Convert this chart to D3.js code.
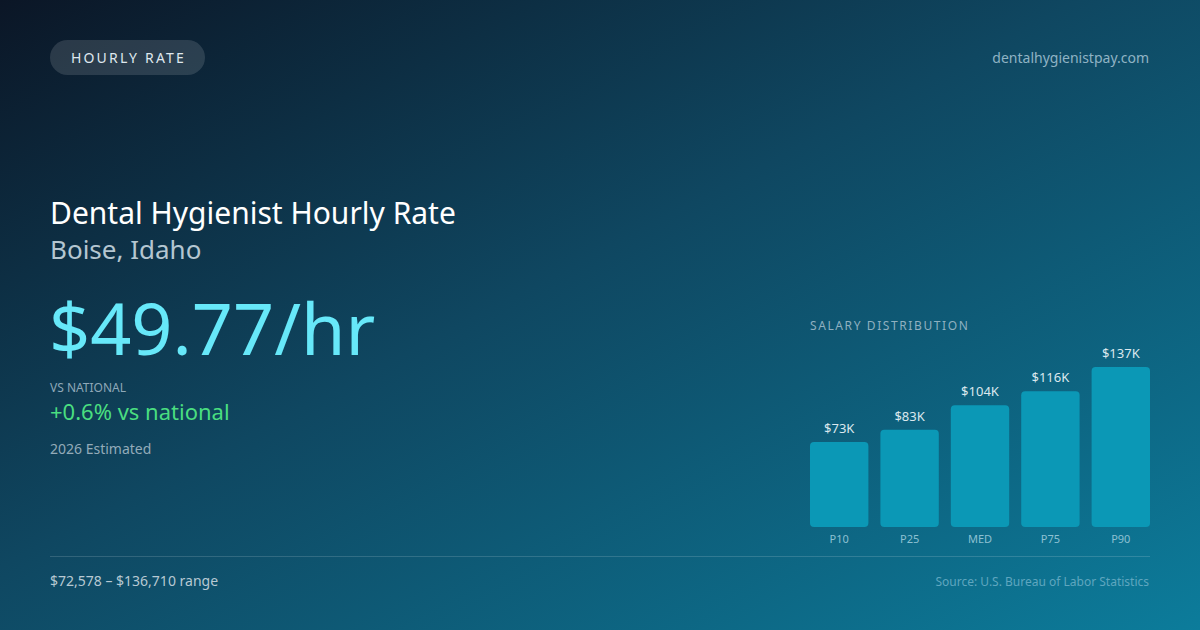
<!DOCTYPE html>
<html><head><meta charset="utf-8">
<script src="https://cdn.jsdelivr.net/npm/d3@7/dist/d3.min.js"></script>
<style>html,body{margin:0;padding:0;background:#0c1827;}svg{display:block;font-family:"Noto Sans","Open Sans",sans-serif;}</style>
</head><body>
<script>
const categories = ["P10","P25","MED","P75","P90"];
const salaries = [72578, 83000, 104000, 116000, 136710];
const barLabels = ["$73K","$83K","$104K","$116K","$137K"];
const badgeText = "HOURLY RATE";
const siteText = "dentalhygienistpay.com";
const titleText = "Dental Hygienist Hourly Rate";
const locationText = "Boise, Idaho";
const rateText = "$49.77/hr";
const compareLabel = "VS NATIONAL";
const compareText = "+0.6% vs national";
const yearText = "2026 Estimated";
const rangeText = "$72,578 – $136,710 range";
const sourceText = "Source: U.S. Bureau of Labor Statistics";

const W = 1200, H = 630;
const svg = d3.select("body").append("svg").attr("width", W).attr("height", H);
const defs = svg.append("defs");
const g = defs.append("linearGradient").attr("id","bg").attr("x1","0%").attr("y1","0%").attr("x2","100%").attr("y2","100%");
g.append("stop").attr("offset","0%").attr("stop-color","#0b1626");
g.append("stop").attr("offset","45%").attr("stop-color","#0f4761");
g.append("stop").attr("offset","100%").attr("stop-color","#0c7c9b");
svg.append("rect").attr("width",W).attr("height",H).attr("fill","url(#bg)");

// badge
svg.append("rect").attr("x",50).attr("y",40).attr("width",155).attr("height",35).attr("rx",17.5)
  .attr("fill","rgba(255,255,255,0.13)");
svg.append("text").attr("x",128.5).attr("y",62.5).attr("text-anchor","middle")
  .attr("font-size",14).attr("letter-spacing",2.2).attr("fill","#dfe7ee").text(badgeText);
svg.append("text").attr("x",1149).attr("y",63).attr("text-anchor","end")
  .attr("font-size",14).attr("fill","#8fb3c4").text(siteText);

svg.append("text").attr("x",50).attr("y",224).attr("font-size",30).attr("fill","#ffffff").text(titleText);
svg.append("text").attr("x",50).attr("y",259).attr("font-size",26).attr("fill","#b4c6d1").text(locationText);
svg.append("text").attr("x",49).attr("y",355).attr("font-size",72).attr("fill","#67e8f9").text(rateText);
svg.append("text").attr("x",50).attr("y",392).attr("font-size",12).attr("fill","#8ea8b8").text(compareLabel);
svg.append("text").attr("x",50).attr("y",420).attr("font-size",22).attr("fill","#4ade80").text(compareText);
svg.append("text").attr("x",50).attr("y",454).attr("font-size",14).attr("fill","#93abb9").text(yearText);

// divider
svg.append("line").attr("x1",50).attr("x2",1150).attr("y1",556.5).attr("y2",556.5)
  .attr("stroke","rgba(255,255,255,0.15)").attr("stroke-width",1);
svg.append("text").attr("x",50).attr("y",586).attr("font-size",14).attr("fill","#b7c9d3").text(rangeText);
svg.append("text").attr("x",1149).attr("y",586).attr("text-anchor","end").attr("font-size",12).attr("fill","#5fa6bf").text(sourceText);

// chart
svg.append("text").attr("x",810).attr("y",330).attr("font-size",12).attr("letter-spacing",1.6)
  .attr("fill","#8fb0c0").text("SALARY DISTRIBUTION");
const x = d3.scaleBand().domain(categories).range([810, 1150]).paddingInner(12/70.4).paddingOuter(0);
const bw = x.bandwidth();
const y = d3.scaleLinear().domain([0, d3.max(salaries)]).range([527, 367]);
const chart = svg.append("g");
chart.selectAll("rect.bar").data(categories).join("rect").attr("class","bar")
  .attr("x", d => x(d)).attr("width", bw)
  .attr("y", (d,i) => y(salaries[i])).attr("height", (d,i) => y(0) - y(salaries[i]))
  .attr("rx",4).attr("fill","#0b98b6");
chart.selectAll("text.val").data(categories).join("text").attr("class","val")
  .attr("x", d => x(d) + bw/2).attr("y", (d,i) => y(salaries[i]) - 9)
  .attr("text-anchor","middle").attr("font-size",13).attr("fill","#dbe8ee")
  .text((d,i) => barLabels[i]);
const xAxis = d3.axisBottom(x).tickSize(0).tickPadding(0);
const ax = chart.append("g").attr("transform","translate(0,535)").call(xAxis);
ax.select(".domain").remove();
ax.selectAll("text").attr("font-size",11).attr("fill","#8cc0d2").attr("font-family","'Noto Sans',sans-serif").attr("dy","0.71em");
</script>
</body></html>
